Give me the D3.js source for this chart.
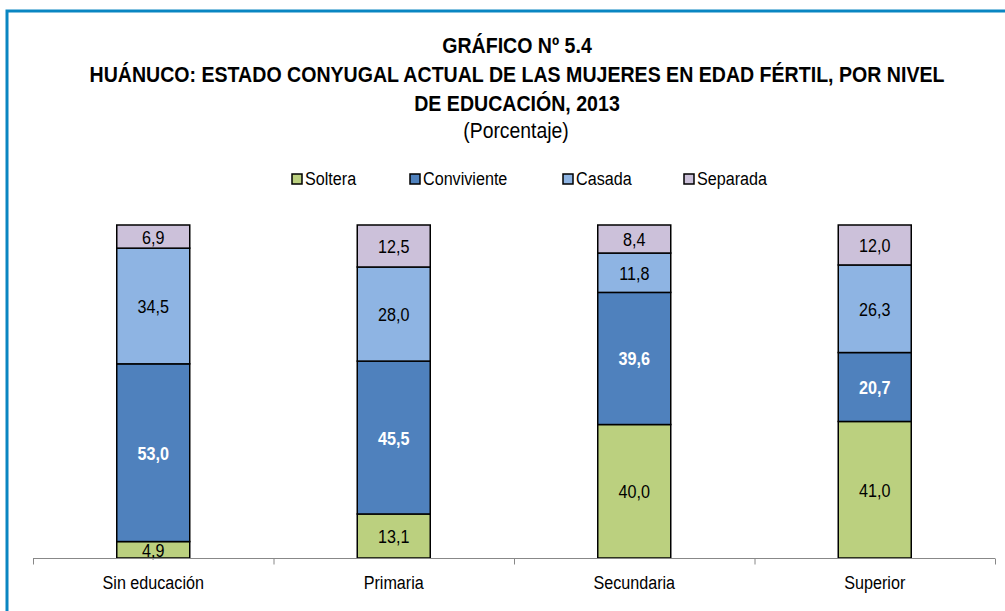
<!DOCTYPE html>
<html>
<head>
<meta charset="utf-8">
<script src="https://d3js.org/d3.v7.min.js"></script>
<style>
body { margin: 0; background: #fff; }
text { font-family: "Liberation Sans", Arial, sans-serif; }
</style>
</head>
<body>
<svg id="chart"></svg>
<script>
// chart data
var categories = ["Sin educación", "Primaria", "Secundaria", "Superior"];
var seriesNames = ["Soltera", "Conviviente", "Casada", "Separada"];
var soltera = [4.9, 13.1, 40.0, 41.0];
var conviviente = [53.0, 45.5, 39.6, 20.7];
var casada = [34.5, 28.0, 11.8, 26.3];
var separada = [6.9, 12.5, 8.4, 12.0];
var titleLines = ["GRÁFICO Nº 5.4",
  "HUÁNUCO: ESTADO CONYUGAL ACTUAL DE LAS MUJERES EN EDAD FÉRTIL, POR NIVEL",
  "DE EDUCACIÓN, 2013"];
var subtitle = "(Porcentaje)";

var colors = ["#bbd07f", "#4f81bd", "#8eb4e3", "#ccc1da"];
var labelColors = ["#000", "#fff", "#000", "#000"];

var width = 1005;
var height = 611;
var narrow = 0.85; // fake a condensed font

var svg = d3.select('#chart')
  .attr("width", width)
  .attr("height", height);

// frame
svg.append("path")
  .attr("d", "M7,611 L7,11 L1005,11")
  .attr("fill", "none")
  .attr("stroke", "#0a86c2")
  .attr("stroke-width", 3);

// title
svg.selectAll(".title")
  .data(titleLines)
  .enter()
  .append("text")
  .attr("class", "title")
  .attr("transform", (d, i) => "translate(517," + (53 + i * 29) + ") scale(0.89,1)")
  .attr("text-anchor", "middle")
  .attr("font-size", 22)
  .attr("font-weight", "bold")
  .attr("fill", "#000")
  .text(d => d);

svg.append("text")
  .attr("transform", "translate(516,138) scale(0.88,1)")
  .attr("text-anchor", "middle")
  .attr("font-size", 22)
  .text(subtitle);

// data table
var rows = categories.map(function(c, i) {
  return { cat: c, Soltera: soltera[i], Conviviente: conviviente[i], Casada: casada[i], Separada: separada[i] };
});

var stack = d3.stack().keys(seriesNames).offset(d3.stackOffsetExpand);
var layers = stack(rows);

var x = d3.scaleBand(categories, [33, 995]);
var y = d3.scaleLinear([0, 1], [558, 225]);
var barW = 73;

var layer = svg.selectAll(".layer")
  .data(layers)
  .enter()
  .append("g")
  .attr("class", "layer")
  .attr("fill", (d, i) => colors[i]);

layer.selectAll("rect")
  .data(d => d)
  .enter()
  .append("rect")
  .attr("x", d => x(d.data.cat) + x.bandwidth() / 2 - barW / 2)
  .attr("y", d => y(d[1]))
  .attr("width", barW)
  .attr("height", d => y(d[0]) - y(d[1]))
  .attr("stroke", "#000")
  .attr("stroke-width", 1.5);

layers.forEach(function(l, i) {
  svg.selectAll(".lbl" + i)
    .data(l)
    .enter()
    .append("text")
    .attr("transform", d => "translate(" + (x(d.data.cat) + x.bandwidth() / 2) + ","
      + ((y(d[0]) + y(d[1])) / 2 + 7) + ") scale(" + narrow + ",1)")
    .attr("text-anchor", "middle")
    .attr("font-size", 19)
    .attr("font-weight", i == 1 ? "bold" : "normal")
    .attr("fill", labelColors[i])
    .text(d => d3.format(".1f")(d.data[l.key]).replace(".", ","));
});

// x axis
var xAxis = d3.axisBottom(x).tickSize(0);
var gx = svg.append("g")
  .attr("transform", "translate(0,558.5)")
  .call(xAxis);
gx.select(".domain").attr("stroke", "#888").attr("d", "M33,0H995");
gx.selectAll(".tick text")
  .attr("font-size", 19)
  .attr("fill", "#000")
  .attr("font-family", "Liberation Sans, Arial, sans-serif")
  .attr("y", 0)
  .attr("dy", 0)
  .attr("transform", "translate(0,30.5) scale(" + narrow + ",1)");
// category boundary ticks
var bounds = categories.map(c => x(c)).concat([x.range()[1]]);
gx.selectAll(".bound")
  .data(bounds)
  .enter()
  .append("line")
  .attr("class", "bound")
  .attr("x1", d => d + 0.5)
  .attr("x2", d => d + 0.5)
  .attr("y1", 0)
  .attr("y2", 6)
  .attr("stroke", "#888");

// legend
var legendX = [292, 410, 563, 684];
var legend = svg.selectAll(".legend")
  .data(seriesNames)
  .enter()
  .append("g")
  .attr("class", "legend")
  .attr("transform", (d, i) => "translate(" + legendX[i] + ",174)");

legend.append("rect")
  .attr("width", 10)
  .attr("height", 10)
  .attr("fill", (d, i) => colors[i])
  .attr("stroke", "#000")
  .attr("stroke-width", 1.5);

legend.append("text")
  .attr("transform", "translate(13,11) scale(" + narrow + ",1)")
  .attr("font-size", 19)
  .text(d => d);
</script>
</body>
</html>
